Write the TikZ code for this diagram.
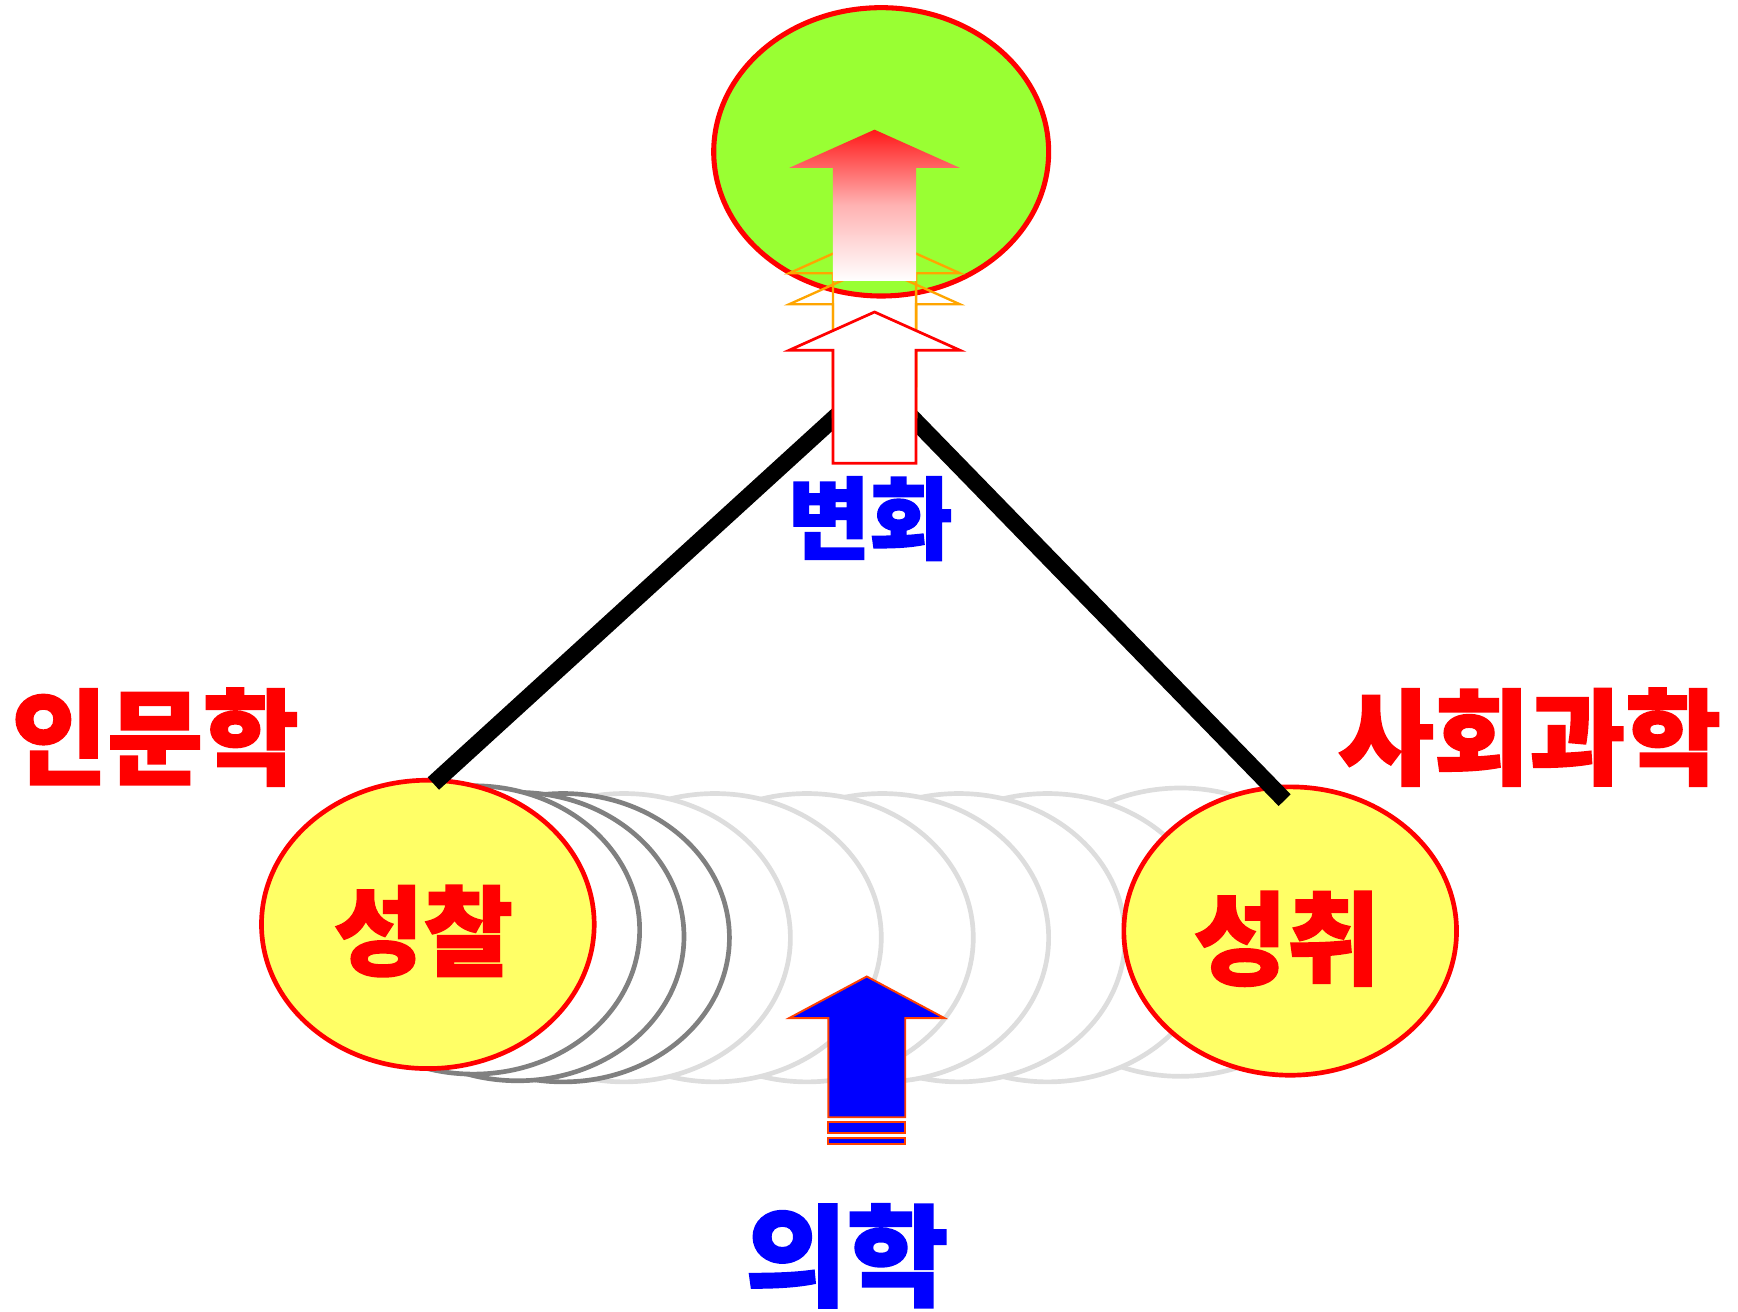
\documentclass[tikz,border=0pt]{standalone}
\usepackage{fontspec}
\newfontfamily\kr{Noto Sans CJK KR}[BoldFeatures={FakeBold=1.6}]
\usetikzlibrary{shapes.geometric,calc}
\definecolor{lgreen}{RGB}{153,255,51}
\definecolor{lyellow}{RGB}{255,255,102}
\definecolor{dgray}{RGB}{128,128,128}
\definecolor{lgray}{RGB}{221,221,221}
\definecolor{orng}{RGB}{255,165,0}
\definecolor{redorange}{RGB}{255,64,0}
\tikzset{
  blockarrow/.pic={\path[pic actions] (0,0) -- (77,34.5) -- (37.5,34.5) -- (37.5,136.5) -- (-37.5,136.5) -- (-37.5,34.5) -- (-77,34.5) -- cycle;},
  bluearrow/.pic={\path[pic actions] (0,0) -- (70,37.5) -- (34.7,37.5) -- (34.7,127) -- (-34.7,127) -- (-34.7,37.5) -- (-70,37.5) -- cycle;}
}
\begin{document}
\begin{tikzpicture}[x=0.01cm,y=-0.01cm,
  yellowell/.style={ellipse, draw=red, fill=lyellow, line width=1.2pt, minimum width=3.0cm, minimum height=2.6cm, inner sep=0pt, outer sep=0pt},
  greenell/.style={ellipse, draw=red, fill=lgreen, line width=1.3pt, minimum width=3.02cm, minimum height=2.6cm, inner sep=0pt, outer sep=0pt},
  ghostdark/.style={draw=dgray, fill=white, line width=1.2pt},
  ghostlight/.style={draw=lgray, fill=white, line width=1.2pt},
  bigline/.style={line width=4.3pt, black},
  redtxt/.style={text=red, inner sep=0pt, font=\kr\bfseries\fontsize{25pt}{30pt}\selectfont},
  bluetxt/.style={text=blue, inner sep=0pt, font=\kr\bfseries\fontsize{23pt}{28pt}\selectfont}
]
\useasboundingbox (0,0) rectangle (1568,1183);
% ghost ellipses (right-most first, each covered by the next one to its left)
\foreach \cx/\cy in {1065/841,945/846,865/846,796/846,728/846,645/846,563/846}
  \draw[ghostlight] (\cx,\cy) ellipse [x radius=1.50cm, y radius=1.30cm];
\foreach \cx/\cy in {508/846,467/845,427/839}
  \draw[ghostdark] (\cx,\cy) ellipse [x radius=1.50cm, y radius=1.30cm];
% main ellipses
\node[yellowell] (le) at (386,834) {};
\node[yellowell] (re) at (1164,840) {};
\node[greenell] (top) at (795,137) {};
% lines
\coordinate (apex) at (790,343);
\draw[bigline] (apex) -- ($(le.north)+(5,3)$);
\draw[bigline] (apex) -- ($(re.north)+(-5,12)$);
% arrows
\pic[draw=orng, line width=0.6pt] at (789,212) {blockarrow};
\pic[draw=orng, line width=0.6pt] at (789,240) {blockarrow};
\pic[top color=red!90, bottom color=white, middle color=red!30] at (789,117) {blockarrow};
\pic[draw=red, fill=white, line width=0.7pt] at (789,281.5) {blockarrow};
\pic[fill=blue, draw=redorange, line width=0.5pt] at (782,881) {bluearrow};
\draw[fill=blue, draw=redorange, line width=0.5pt] (747.3,1012) rectangle (816.7,1022);
\draw[fill=blue, draw=redorange, line width=0.5pt] (747.3,1027) rectangle (816.7,1032);
% texts
\node[bluetxt] (t1) at (785,468) {변화};
\node[redtxt, font=\kr\bfseries\fontsize{26.7pt}{30pt}\selectfont] (t2) at (140,665) {인문학};
\node[redtxt, font=\kr\bfseries\fontsize{26.7pt}{30pt}\selectfont] (t3) at (1380,665) {사회과학};
\node[bluetxt, font=\kr\bfseries\fontsize{28.3pt}{32pt}\selectfont] (t4) at (764,1133) {의학};
\node[redtxt] (t5) at (382,840) {성찰};
\node[redtxt, font=\kr\bfseries\fontsize{26pt}{30pt}\selectfont] (t6) at (1161,847) {성취};
\end{tikzpicture}
\end{document}
